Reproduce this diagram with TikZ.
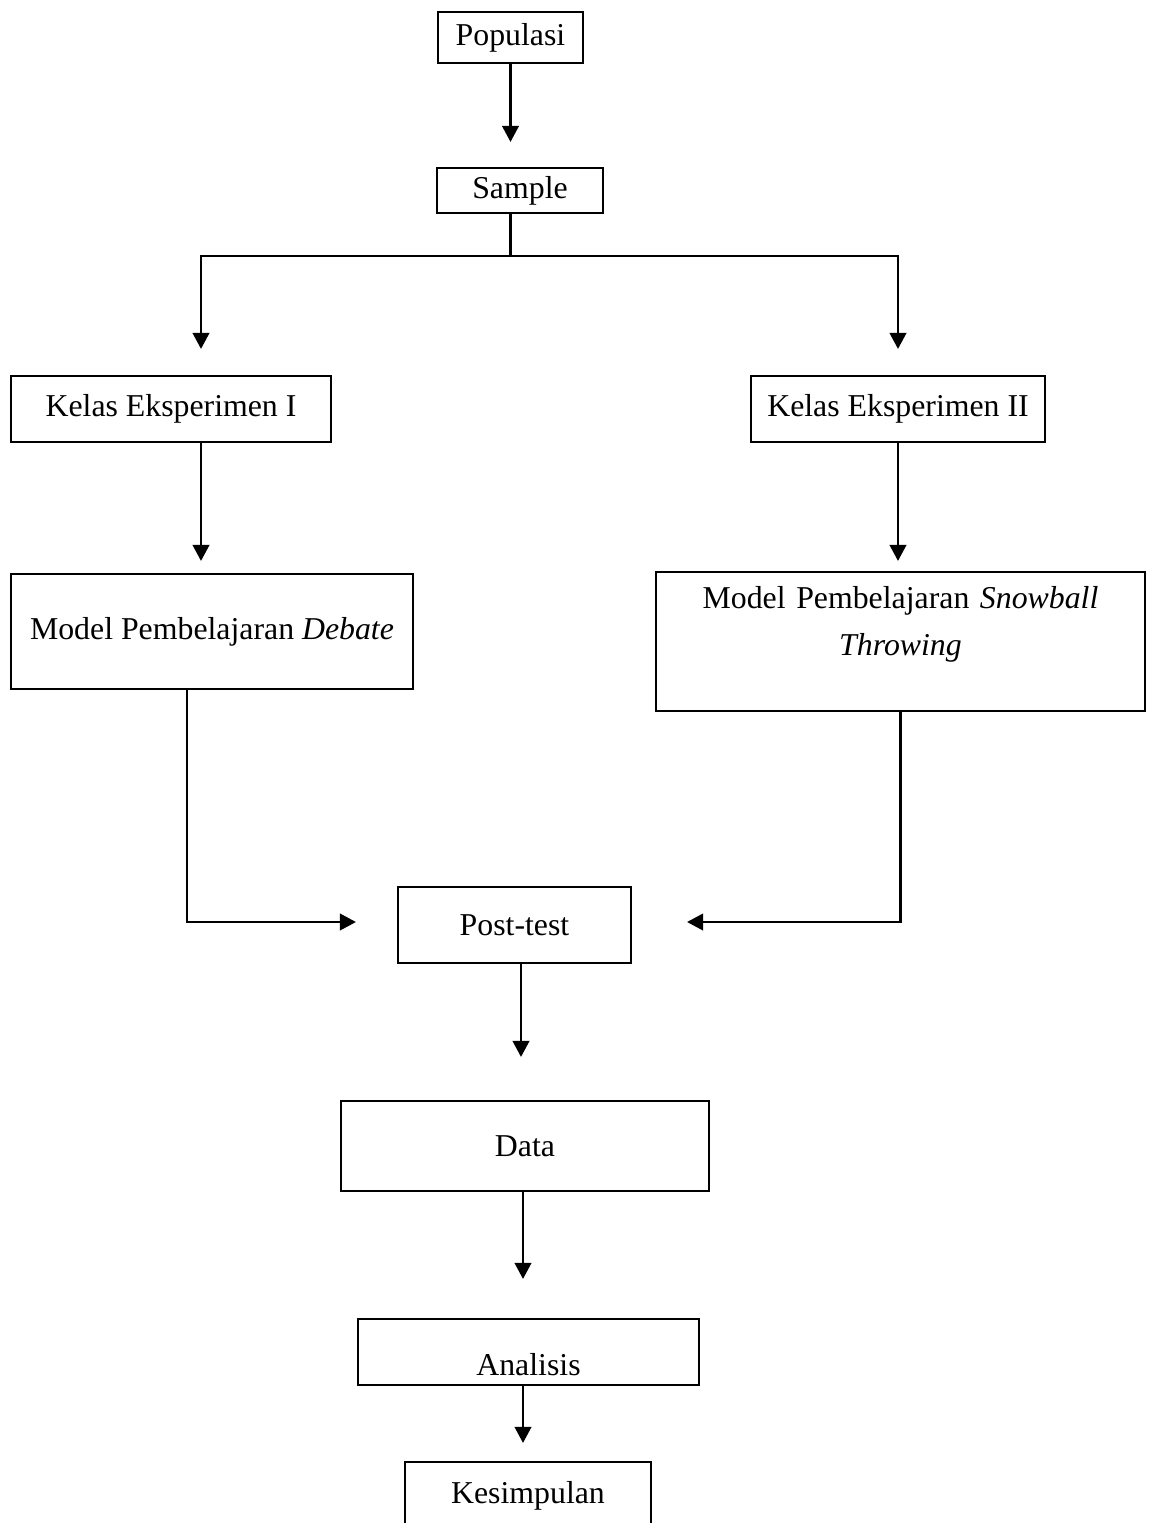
\documentclass[tikz,border=0pt]{standalone}
\usepackage{fontspec}
\setmainfont{Liberation Serif}
\usetikzlibrary{arrows.meta,calc}
\tikzset{
  flowbox/.style={draw=black, line width=1.2pt, align=center,
              font=\fontsize{18.1}{27.3}\selectfont},
  flowarr/.style={-{Triangle[length=3.2mm, width=3.3mm]}, line width=1.3pt},
  flowline/.style={line width=1.3pt},
}

\begin{document}
\begin{tikzpicture}
  \path[use as bounding box, clip] (0,0) rectangle (23.04,-30.46);
  \node[flowbox, minimum width=2.9cm, minimum height=1.02cm] (pop) at (10.21,-0.75) {Populasi};
  \node[flowbox, minimum width=3.32cm, minimum height=0.9cm] (smp) at (10.40,-3.81) {Sample};
  \node[flowbox, minimum width=6.4cm, minimum height=1.32cm] (ke1) at (3.42,-8.18) {Kelas Eksperimen I};
  \node[flowbox, minimum width=5.88cm, minimum height=1.32cm] (ke2) at (17.96,-8.18) {Kelas Eksperimen II};
  \node[flowbox, minimum width=8.04cm, minimum height=2.3cm] (mdb) at (4.24,-12.63)
       {Model Pembelajaran \textit{Debate}};
  \node[flowbox, minimum width=9.78cm, text width=9.3cm, inner ysep=0pt,
        text height=0.72cm, text depth=2.06cm] (msb) at (18.01,-12.83)
       {Model Pembelajaran \textit{Snowball}\\ \textit{Throwing}};
  \node[flowbox, minimum width=4.66cm, minimum height=1.52cm] (pst) at (10.29,-18.5) {Post-test};
  \node[flowbox, minimum width=7.36cm, minimum height=1.8cm] (dat) at (10.5,-22.92) {Data};
  \node[flowbox, minimum width=6.82cm, inner ysep=0pt,
        text height=1.12cm, text depth=0.2cm] (ana) at (10.57,-27.04) {Analisis};
  \node[flowbox, minimum width=4.92cm, minimum height=1.36cm] (kes) at (10.56,-29.92) {Kesimpulan};

  \coordinate (split) at ($(smp.south -| pop.south)+(0,-0.84)$);
  \draw[flowarr, shorten >=0.5cm] (pop.south) -- (pop.south |- smp.north);
  \draw[flowline] (smp.south -| pop.south) -- (split);
  \draw[flowarr, shorten >=0.52cm] (split) -| ([xshift=0.6cm]ke1.north);
  \draw[flowarr, shorten >=0.52cm] (split) -| (ke2.north);
  \draw[flowarr, shorten >=0.24cm] ([xshift=0.6cm]ke1.south) -- ([xshift=0.6cm]ke1.south |- mdb.north);
  \draw[flowarr, shorten >=0.2cm] (ke2.south) -- (ke2.south |- msb.north);
  \draw[flowarr, shorten >=0.82cm] ([xshift=-0.5cm]mdb.south) |- ([yshift=0.06cm]pst.west);
  \draw[flowarr, shorten >=1.1cm] (msb.south) |- ([yshift=0.06cm]pst.east);
  \draw[flowarr, shorten >=0.86cm] ([xshift=-0.08cm]dat.north |- pst.south) -- ([xshift=-0.08cm]dat.north);
  \draw[flowarr, shorten >=0.78cm] ([xshift=-0.04cm]dat.south) -- ([xshift=-0.04cm]dat.south |- ana.north);
  \draw[flowarr, shorten >=0.36cm] ([xshift=-0.04cm]dat.south |- ana.south) -- ([xshift=-0.04cm]dat.south |- kes.north);
\end{tikzpicture}
\end{document}
